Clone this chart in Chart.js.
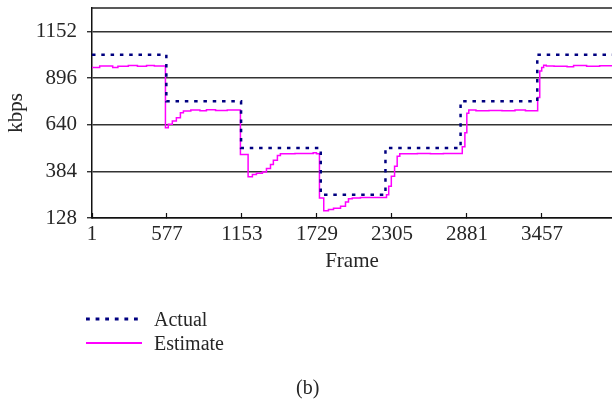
<!DOCTYPE html>
<html>
<head>
<meta charset="utf-8">
<script src="https://cdn.jsdelivr.net/npm/chart.js@4.4.1/dist/chart.umd.min.js"></script>
<style>
  html, body { margin: 0; padding: 0; background: #fff; overflow: hidden; }
  #wrap { position: relative; width: 612px; height: 399px; }
  #c { position: absolute; left: 0; top: 0; }
  .lg { position: absolute; font-family: "Liberation Serif", "DejaVu Serif", serif; font-size: 20px; line-height: 20px; color: #262626; white-space: nowrap; }
</style>
</head>
<body>
<div id="wrap">
  <canvas id="c" width="612" height="280"></canvas>
  <svg id="lgsvg" width="612" height="399" style="position:absolute;left:0;top:0;pointer-events:none"></svg>
  <div id="lgtext"></div>
  <div class="lg" style="left:296px; top:377px;">(b)</div>
</div>
<script>
// ---- data ----
const xTickValues = [1, 577, 1153, 1729, 2305, 2881, 3457];
const yTickLabels = [128, 384, 640, 896, 1152];

const actualFrames = [1, 572, 1146, 1758, 2255, 2832, 3421, 3995];
const actualKbps   = [1024, 768, 512, 256, 512, 768, 1024, 1024];

const estimateFrames = [1, 60, 160, 200, 280, 350, 420, 480, 565, 587, 618, 649, 680, 703, 760, 830, 880, 950, 1040,
  1141, 1200, 1233, 1264, 1310, 1341, 1372, 1394, 1425, 1448, 1560, 1700, 1725,
  1748, 1781, 1817, 1856, 1910, 1948, 1971, 2000, 2063,
  2263, 2280, 2300, 2325, 2345, 2365, 2500, 2600, 2700,
  2845, 2865, 2880, 2895, 2950, 3050, 3150, 3250, 3330,
  3424, 3440, 3455, 3470, 3490, 3550, 3650, 3700, 3800, 3900, 3995];
const estimateKbps = [953, 962, 953, 960, 964, 961, 964, 962, 623, 642, 660, 678, 706, 715, 720, 716, 722, 718, 720,
  476, 354, 366, 373, 381, 399, 421, 445, 471, 480, 482, 486, 480,
  238, 168, 174, 181, 192, 216, 234, 238, 241,
  256, 302, 357, 412, 467, 480, 482, 480, 482,
  519, 596, 702, 720, 716, 718, 716, 720, 716,
  789, 935, 954, 966, 962, 960, 958, 964, 960, 963, 960];

const seriesNames = ["Actual", "Estimate"];

const FONT = "'Liberation Serif', 'DejaVu Serif', serif";
const TXT = '#262626';

const toPts = (xs, ys) => xs.map((x, i) => ({ x: x, y: ys[i] }));
const isMajor = (v) => Math.abs(v - 1280) < 1 || yTickLabels.some(t => Math.abs(v - t) < 1);

const chart = new Chart(document.getElementById('c'), {
  type: 'line',
  data: {
    datasets: [
      {
        label: seriesNames[0],
        data: toPts(actualFrames, actualKbps),
        borderColor: '#000080',
        borderWidth: 2.5,
        borderDash: [3.5, 5.8],
        stepped: true,
        pointRadius: 0,
        fill: false
      },
      {
        label: seriesNames[1],
        data: toPts(estimateFrames, estimateKbps),
        borderColor: '#ff00ff',
        borderWidth: 1.5,
        stepped: true,
        pointRadius: 0,
        fill: false
      }
    ]
  },
  options: {
    responsive: false,
    animation: false,
    devicePixelRatio: 1,
    layout: { padding: { top: 8, right: 0, bottom: 0, left: 0 } },
    plugins: { legend: { display: false }, tooltip: { enabled: false } },
    scales: {
      x: {
        type: 'linear',
        min: 1,
        max: 3995,
        afterBuildTicks: (s) => { s.ticks = xTickValues.map(v => ({ value: v })); },
        afterFit: (s) => { s.height = 62; s.paddingLeft = 0; s.paddingRight = 0; },
        grid: { drawOnChartArea: false, drawTicks: true, tickLength: -5, tickColor: '#111', tickWidth: 1.2 },
        border: { display: true, color: '#111', width: 1.5 },
        ticks: {
          autoSkip: false, maxRotation: 0, padding: 9,
          color: TXT, font: { family: FONT, size: 21 },
          callback: (v) => String(v)
        },
        title: { display: true, text: 'Frame', color: TXT, font: { family: FONT, size: 21 }, padding: { top: 0, bottom: 6 } }
      },
      y: {
        min: 128,
        max: 1280,
        afterFit: (s) => { s.width = 92; s.paddingTop = 0; s.paddingBottom = 0; },
        grid: {
          color: (ctx) => (ctx.tick && isMajor(ctx.tick.value)) ? '#333' : 'rgba(0,0,0,0)',
          lineWidth: 1.5,
          tickColor: (ctx) => (ctx.tick && Math.abs(ctx.tick.value - 1280) < 1) ? 'rgba(0,0,0,0)' : '#111',
          tickLength: 5,
          tickWidth: 1.2
        },
        border: { display: true, color: '#111', width: 1.5 },
        ticks: {
          stepSize: 128,
          padding: 10,
          color: TXT,
          font: { family: FONT, size: 21 },
          callback: (v) => yTickLabels.includes(v) ? String(v) : ''
        },
        title: { display: true, text: 'kbps', color: TXT, font: { family: FONT, size: 21 }, padding: { top: 4, bottom: 0 } }
      }
    }
  },
  plugins: [{
    id: 'topBorder',
    beforeDatasetsDraw(c) {
      const a = c.chartArea, ctx = c.ctx;
      const y = c.scales.y.getPixelForValue(1280);
      ctx.save();
      ctx.strokeStyle = '#222';
      ctx.lineWidth = 1.5;
      ctx.beginPath();
      ctx.moveTo(a.left, y);
      ctx.lineTo(a.right, y);
      ctx.stroke();
      ctx.restore();
    }
  }]
});

// ---- HTML legend built from the chart's datasets ----
(function buildLegend() {
  const svg = document.getElementById('lgsvg');
  const txt = document.getElementById('lgtext');
  const rows = [319, 343];
  chart.data.datasets.forEach((ds, i) => {
    const y = rows[i];
    const line = document.createElementNS('http://www.w3.org/2000/svg', 'line');
    line.setAttribute('x1', 86); line.setAttribute('x2', 142);
    line.setAttribute('y1', y); line.setAttribute('y2', y);
    line.setAttribute('stroke', ds.borderColor);
    line.setAttribute('stroke-width', ds.borderDash ? 2.8 : 1.8);
    if (ds.borderDash) line.setAttribute('stroke-dasharray', '3.8 5.8');
    svg.appendChild(line);
    const d = document.createElement('div');
    d.className = 'lg';
    d.style.left = '154px';
    d.style.top = (y - 10) + 'px';
    d.textContent = ds.label;
    txt.appendChild(d);
  });
})();
</script>
</body>
</html>
